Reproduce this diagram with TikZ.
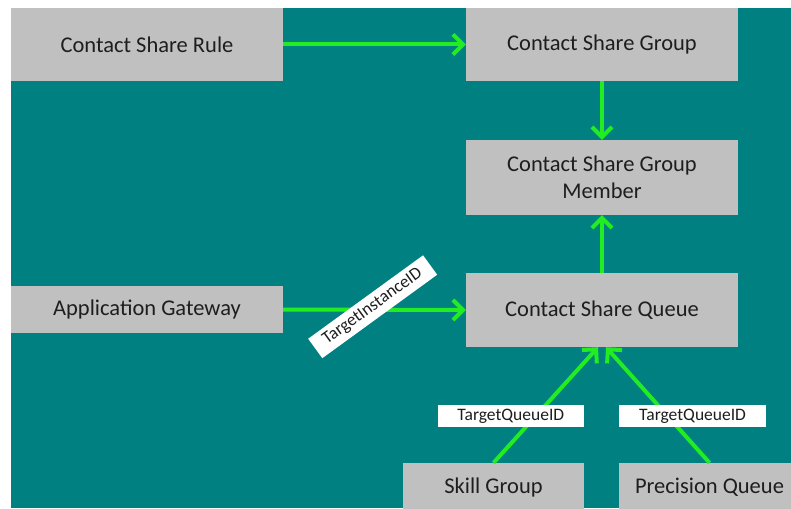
\documentclass[tikz,border=0pt]{standalone}
\usepackage{fontspec}
\setmainfont{Carlito}
\usetikzlibrary{arrows.meta}

\definecolor{bgteal}{RGB}{0,128,128}
\definecolor{boxgray}{RGB}{192,192,192}
\definecolor{linkgreen}{RGB}{34,236,34}
\definecolor{txtdark}{RGB}{30,30,30}

\begin{document}
\begin{tikzpicture}[x=1pt, y=-1pt,
  entity/.style={fill=boxgray, text=txtdark, inner sep=0pt, minimum width=272pt,
    align=center, font=\fontsize{22.5}{27}\selectfont},
  link/.style={linkgreen, line width=4pt, -{Straight Barb[length=10pt,width=20pt]}},
  idlabel/.style={fill=white, text=txtdark, inner sep=0pt, minimum height=22pt,
    font=\fontsize{17.5}{20}\selectfont}]

\useasboundingbox (0,0) rectangle (791,508);
\fill[bgteal] (11,8) rectangle (791,508);

% tables
\node[entity, minimum height=73pt] (rule) at (147,44.5) {Contact Share Rule};
\node[entity, minimum height=73pt] (group) at (602,44.5) {Contact Share Group};
\node[entity, minimum height=75pt] (member) at (602,177.5) {Contact Share Group\\Member};
\node[entity, minimum height=74pt] (queue) at (602,310) {Contact Share Queue};
\node[entity, minimum height=47pt] (gateway) at (147,309.5) {Application Gateway};
\node[entity, minimum height=48pt, minimum width=181pt] (skill) at (493.5,487) {Skill Group};
\node[entity, minimum height=48pt, minimum width=181pt] (precision) at (709.5,487) {Precision Queue};

% references
\draw[link] (rule.east) -- (group.west);
\draw[link] (group.south) -- (member.north);
\draw[link] (queue.north) -- (member.south);
\draw[link] (gateway.east) -- (queue.west)
  node[idlabel, pos=0.49, yshift=3pt, rotate=36, minimum width=142pt, minimum height=24pt] {TargetInstanceID};
\draw[link] (skill.north) -- ([xshift=-4pt]queue.south)
  node[idlabel, pos=0.405, xshift=-25pt, minimum width=146pt] {TargetQueueID};
\draw[link] (precision.north) -- ([xshift=4pt]queue.south)
  node[idlabel, pos=0.405, xshift=25pt, minimum width=147pt] {TargetQueueID};

\end{tikzpicture}
\end{document}
